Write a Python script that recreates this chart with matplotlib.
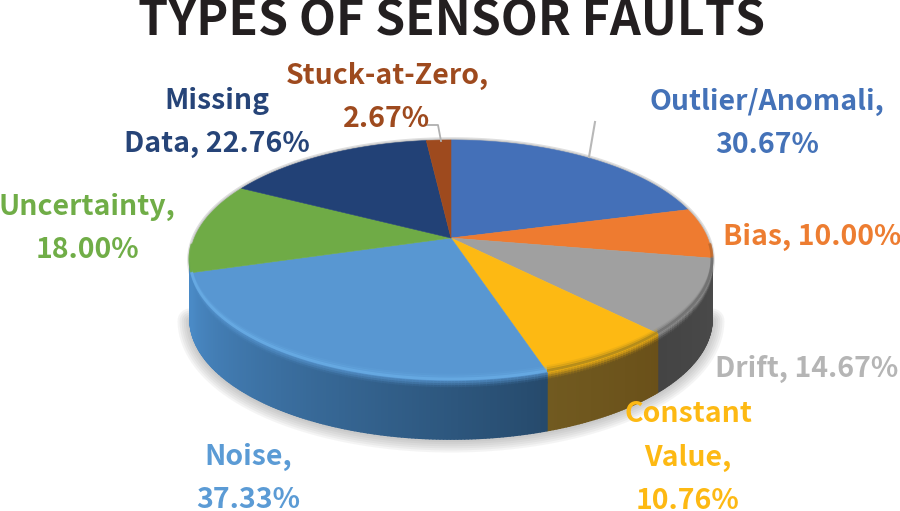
import numpy as np
import matplotlib
matplotlib.use('Agg')
import matplotlib.pyplot as plt
from matplotlib.collections import PolyCollection
from matplotlib.colors import to_rgb

title = 'TYPES OF SENSOR FAULTS'
names = ['Outlier/Anomali,', 'Bias,', 'Drift,', 'Constant\nValue,', 'Noise,',
         'Uncertainty,', 'Missing\nData,', 'Stuck-at-Zero,']
values = [30.67, 10.00, 14.67, 10.76, 37.33, 18.00, 22.76, 2.67]
# labels that keep the value on the same line as the last word
same_line = [False, True, True, False, False, False, True, False]

top_colors = ['#4470b8', '#ee7b30', '#a0a0a0', '#fdb913', '#5897d2', '#6fab46', '#224176', '#9e4a1e']
text_colors = ['#4472b8', '#ed7d31', '#b5b5b5', '#fdb913', '#5b9bd5', '#70ad47', '#264478', '#9e4a1e']
# wall colour at the start and the end of each slice (clockwise)
wall_start = ['#2c4a7a', '#9a5020', '#4b4b4b', '#6a5019', '#264a6c', '#4a8ac6', '#1a3058', '#6a3010']
wall_end = ['#2c4a7a', '#9a5020', '#444444', '#715a20', '#4a8ac6', '#4a8ac6', '#1a3058', '#6a3010']
bevel_colors = ['#4470b8', '#ee7b30', '#a0a0a0', '#fdb913', '#5897d2', '#5897d2', '#224176', '#9e4a1e']
edge_colors = ['#4470b8', '#c06a2c', '#6e6e6e', '#a9851c', '#69ade6', '#6fab46', '#224176', '#9e4a1e']

label_x = [767, 812, 807, 688, 248, 87, 217, 387]
label_base = [153, 245, 377, 509, 508, 258, 152, 127]

# projection of the tilted disc to pixels
cx, cy = 451, 238
rx, ry, persp = 256.6, 116, 0.1833
depth = 59


def rim(theta):
    u, v = np.sin(theta), np.cos(theta)
    w = 1 + persp * v
    return cx + rx * u / w, cy - ry * v / w


def mix(a, b, t):
    a, b = np.array(to_rgb(a)), np.array(to_rgb(b))
    return a + (b - a) * t


fig = plt.figure(figsize=(9, 5.11), dpi=100)
ax = fig.add_axes([0, 0, 1, 1])
ax.set_xlim(0, 900)
ax.set_ylim(511, 0)
ax.axis('off')

edges = np.cumsum([0] + values) / sum(values) * 2 * np.pi
all_t = np.linspace(0, 2 * np.pi, 361)
rim_x, rim_y = rim(all_t)

# soft shadow under the disc
front = np.cos(all_t) < -persp
sx, sy = rim_x[front], rim_y[front] + depth + 1
for w in range(18, 1, -3):
    ax.plot(sx, sy, color='#707070', lw=w, alpha=0.07, solid_capstyle='round', zorder=1)
for w in (4, 2):
    ax.fill(rim_x, rim_y, fc='none', ec='#606060', lw=w, alpha=0.2, zorder=1)

# side wall, thin strips with a small bevel at the upper edge
levels = [0, 2, 4, 6, 8, 11, depth]
for i in range(len(values)):
    ts = np.linspace(edges[i], edges[i + 1], max(int((edges[i + 1] - edges[i]) * 90), 3))
    polys, cols = [], []
    for j in range(len(ts) - 1):
        if np.cos(ts[j]) > -persp:
            continue
        x0, y0 = rim(ts[j])
        x1, y1 = rim(ts[j + 1])
        frac = j / (len(ts) - 2)
        base = mix(wall_start[i], wall_end[i], frac)
        for k in range(len(levels) - 1):
            d0, d1 = levels[k], levels[k + 1]
            polys.append([(x0, y0 + d0), (x1, y1 + d0), (x1, y1 + d1), (x0, y0 + d1)])
            cols.append(mix(bevel_colors[i], base, min(1, (k + 0.5) / 4)))
    if polys:
        ax.add_collection(PolyCollection(polys, facecolors=cols, edgecolors=cols, lw=1.2, zorder=2))

# top face
for i in range(len(values)):
    ts = np.linspace(edges[i], edges[i + 1], 120)
    x, y = rim(ts)
    ax.fill(np.r_[cx, x], np.r_[cy, y], fc=top_colors[i], ec=top_colors[i], lw=0.4, zorder=3)

# highlight just inside the front edge
for i in range(len(values)):
    ts = np.linspace(edges[i], edges[i + 1], 120)
    ts = ts[np.cos(ts) < -0.05]
    if len(ts) < 2:
        continue
    x, y = rim(ts)
    for off, a in ((1, 0.8), (3, 0.35), (5, 0.15)):
        ax.plot(x, y - off * np.abs(np.cos(ts)) ** 0.5, color=edge_colors[i], lw=2, alpha=a,
                solid_capstyle='butt', zorder=4)

# leader lines
ax.plot([595, 589], [122, 157], color='#b8b8b8', lw=1.5, zorder=5)
ax.plot([425, 438, 441], [125, 125, 141], color='#b0b0b0', lw=1.3, zorder=5)

font = ['Noto Sans CJK SC', 'DejaVu Sans']
ax.text(451, 36, title, ha='center', va='baseline', family=font, fontweight='bold',
        fontsize=34.7, color='#231f20', zorder=6)

for i, name in enumerate(names):
    sep = ' ' if same_line[i] else '\n'
    label = f'{name}{sep}{values[i]:.2f}%'
    lines = label.split('\n')
    for n, line in enumerate(lines):
        base = label_base[i] - 43.3 * (len(lines) - 1 - n)
        ax.text(label_x[i], base, line, ha='center', va='baseline', family=font,
                fontweight='bold', fontsize=20.5, color=text_colors[i], zorder=6)

fig.savefig('out.png', dpi=100)
